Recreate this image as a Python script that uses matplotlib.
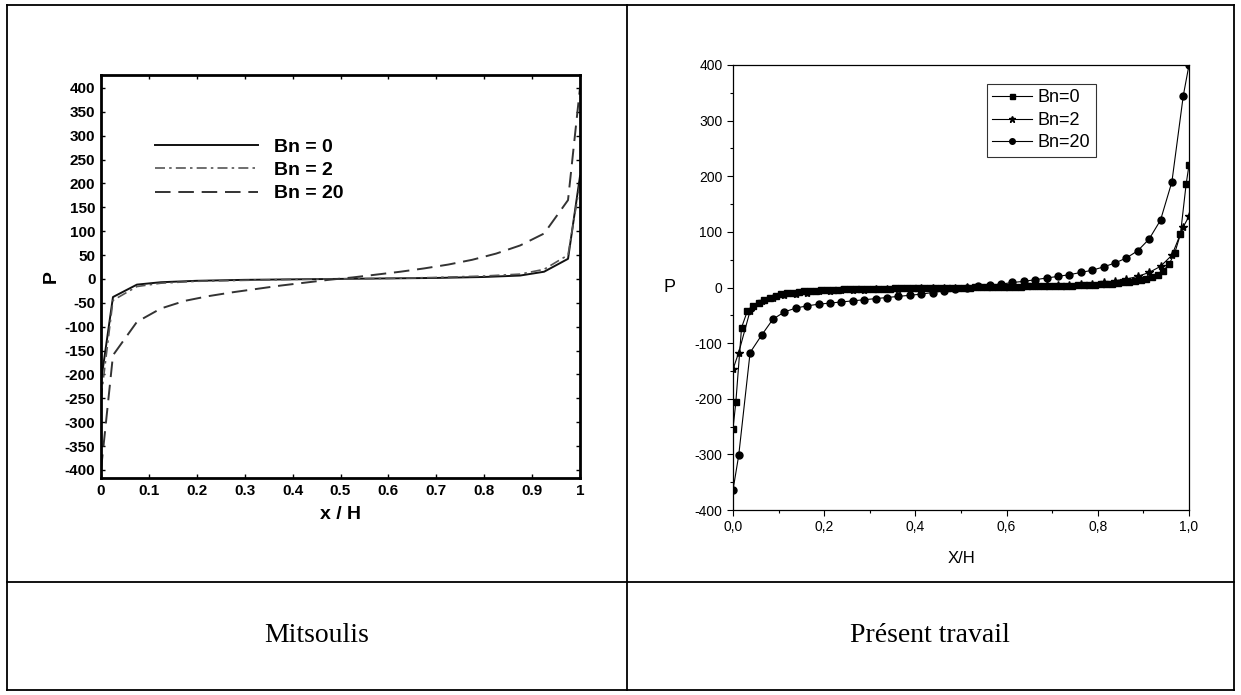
import matplotlib.pyplot as plt
import numpy as np

plt.rcParams['font.family'] = ['Liberation Sans', 'DejaVu Sans']
plt.rcParams['axes.unicode_minus'] = False

# ---- left panel (Mitsoulis) ----
mit_x0 = [0, 0.025, 0.075, 0.125, 0.2, 0.3, 0.4, 0.5, 0.6, 0.7, 0.8, 0.875, 0.925, 0.975, 1.0]
mit_bn0 = [-215, -38, -12, -7, -4, -2, -1, 0, 1, 2, 4, 7, 15, 42, 215]
mit_x2 = [0, 0.025, 0.075, 0.125, 0.2, 0.3, 0.4, 0.5, 0.6, 0.7, 0.8, 0.875, 0.925, 0.975, 1.0]
mit_bn2 = [-250, -45, -16, -9, -5, -3, -1, 0, 1, 3, 6, 10, 20, 50, 200]
mit_x20 = [0, 0.025, 0.075, 0.125, 0.175, 0.225, 0.275, 0.325, 0.375, 0.425, 0.475,
           0.525, 0.575, 0.625, 0.675, 0.725, 0.775, 0.825, 0.875, 0.925, 0.975, 1.0]
mit_bn20 = [-400, -160, -90, -62, -46, -36, -28, -21, -14, -8, -2,
            3, 9, 15, 22, 30, 40, 53, 70, 95, 165, 400]

# ---- right panel (present work) ----
x40 = [0.0, 0.0125, 0.0375, 0.0625, 0.0875, 0.1125, 0.1375, 0.1625, 0.1875, 0.2125,
       0.2375, 0.2625, 0.2875, 0.3125, 0.3375, 0.3625, 0.3875, 0.4125, 0.4375, 0.4625,
       0.4875, 0.5125, 0.5375, 0.5625, 0.5875, 0.6125, 0.6375, 0.6625, 0.6875, 0.7125,
       0.7375, 0.7625, 0.7875, 0.8125, 0.8375, 0.8625, 0.8875, 0.9125, 0.9375, 0.9625,
       0.9875, 1.0]
pt_bn20 = [-364, -302, -117, -86, -57, -44, -37, -33, -30, -28,
           -26, -24, -22, -20, -18, -16, -14, -12, -9, -6,
           -3, 0, 2, 4, 6, 9, 11, 14, 17, 20,
           23, 27, 31, 37, 44, 53, 66, 87, 121, 190,
           345, 400]
pt_bn2 = [-147, -117, -42, -25, -18, -14, -11, -9, -7, -6,
          -5, -4.5, -4, -3.5, -3, -2.5, -2, -1.5, -1, -0.5,
          0, 0.5, 1, 1.5, 2, 2.5, 3, 3.5, 4, 4.5,
          5, 6, 7, 9, 12, 15, 20, 27, 38, 58,
          109, 128]
x80 = [0.0, 0.00625, 0.01875, 0.03125, 0.04375, 0.05625, 0.06875, 0.08125,
       0.09375, 0.10625, 0.11875, 0.13125, 0.14375, 0.15625, 0.16875, 0.18125,
       0.19375, 0.20625, 0.21875, 0.23125, 0.24375, 0.25625, 0.26875, 0.28125,
       0.29375, 0.30625, 0.31875, 0.33125, 0.34375, 0.35625, 0.36875, 0.38125,
       0.39375, 0.40625, 0.41875, 0.43125, 0.44375, 0.45625, 0.46875, 0.48125,
       0.49375, 0.50625, 0.51875, 0.53125, 0.54375, 0.55625, 0.56875, 0.58125,
       0.59375, 0.60625, 0.61875, 0.63125, 0.64375, 0.65625, 0.66875, 0.68125,
       0.69375, 0.70625, 0.71875, 0.73125, 0.74375, 0.75625, 0.76875, 0.78125,
       0.79375, 0.80625, 0.81875, 0.83125, 0.84375, 0.85625, 0.86875, 0.88125,
       0.89375, 0.90625, 0.91875, 0.93125, 0.94375, 0.95625, 0.96875, 0.98125,
       0.99375, 1.0]
pt_bn0 = [-254, -206, -72, -43, -34, -27, -22, -18,
          -15, -12, -10, -9, -8, -7, -6, -5.5,
          -5, -4.5, -4, -4, -3.5, -3.5, -3, -3,
          -2.5, -2.5, -2, -2, -2, -1.5, -1.5, -1.5,
          -1, -1, -1, -0.5, -0.5, -0.5, 0, 0,
          0, 0, 0, 0.5, 0.5, 0.5, 1, 1,
          1, 1.5, 1.5, 1.5, 2, 2, 2, 2.5,
          2.5, 3, 3, 3.5, 3.5, 4, 4, 4.5,
          5, 5.5, 6, 7, 8, 9, 10, 12,
          13, 15, 18, 22, 30, 42, 62, 96,
          186, 220]

W, H = 1241, 695
fig = plt.figure(figsize=(W / 100, H / 100), dpi=100)

# table frame drawn in pixel coords
bg = fig.add_axes([0, 0, 1, 1])
bg.set_xlim(0, W)
bg.set_ylim(H, 0)
bg.axis('off')
for xs, ys in [([7, 1234], [5, 5]), ([7, 1234], [690, 690]), ([7, 7], [5, 690]),
               ([1234, 1234], [5, 690]), ([627, 627], [5, 690]), ([7, 1234], [582, 582])]:
    bg.plot(xs, ys, color='black', lw=1.3, solid_capstyle='projecting')
bg.text(317, 636, 'Mitsoulis', family='Liberation Serif', fontsize=20, ha='center', va='center')
bg.text(930, 636, 'Présent travail', family='Liberation Serif', fontsize=20, ha='center', va='center')


def fig_rect(x0, y0, x1, y1):
    return [x0 / W, 1 - y1 / H, (x1 - x0) / W, (y1 - y0) / H]


# ---- left plot ----
ax1 = fig.add_axes(fig_rect(101, 75, 580, 478))
ax1.plot(mit_x0, mit_bn0, color='#111111', lw=1.4, label='Bn = 0')
ax1.plot(mit_x2, mit_bn2, color='#555555', lw=1.2, ls=(0, (6, 2.5, 1.5, 2.5)), label='Bn = 2')
ax1.plot(mit_x20, mit_bn20, color='#333333', lw=1.4, ls=(0, (8, 4)), label='Bn = 20')
ax1.set_xlim(0, 1)
ax1.set_ylim(-417, 427)
ax1.set_xticks(np.arange(0, 1.01, 0.1))
ax1.set_xticklabels(['0', '0.1', '0.2', '0.3', '0.4', '0.5', '0.6', '0.7', '0.8', '0.9', '1'])
ax1.set_yticks(np.arange(-400, 401, 50))
ax1.tick_params(direction='in', top=True, right=True, length=3, width=1, labelsize=11, pad=4)
for lab in ax1.get_xticklabels() + ax1.get_yticklabels():
    lab.set_fontweight('bold')
for sp in ax1.spines.values():
    sp.set_linewidth(2)
ax1.set_xlabel('x / H', fontsize=14, fontweight='bold', labelpad=6)
ax1.set_ylabel('P', fontsize=14, fontweight='bold', labelpad=4)
ax1.legend(loc='upper left', bbox_to_anchor=(155 / W, 1 - 138 / H), bbox_transform=fig.transFigure,
           frameon=False, prop={'weight': 'bold', 'size': 14}, handlelength=5.3,
           handletextpad=0.8, labelspacing=0.3, borderaxespad=0, borderpad=0)

# ---- right plot ----
ax2 = fig.add_axes(fig_rect(733, 65, 1189, 510))
ax2.plot(x80, pt_bn0, color='black', lw=0.8, marker='s', ms=4.5, label='Bn=0')
ax2.plot(x40, pt_bn2, color='black', lw=0.8, marker='*', ms=6, label='Bn=2')
ax2.plot(x40, pt_bn20, color='black', lw=0.8, marker='o', ms=5, label='Bn=20')
ax2.set_xlim(0, 1)
ax2.set_ylim(-400, 400)
ax2.set_xticks([0, 0.2, 0.4, 0.6, 0.8, 1.0])
ax2.set_xticklabels(['0,0', '0,2', '0,4', '0,6', '0,8', '1,0'])
ax2.set_xticks(np.arange(0.1, 1.0, 0.2), minor=True)
ax2.set_yticks(np.arange(-400, 401, 100))
ax2.set_yticks(np.arange(-350, 400, 100), minor=True)
ax2.tick_params(which='major', direction='out', length=4, width=0.8, labelsize=10)
ax2.tick_params(which='minor', direction='out', length=2.5, width=0.8)
for sp in ax2.spines.values():
    sp.set_linewidth(0.9)
ax2.set_xlabel('X/H', fontsize=12, labelpad=12)
ax2.set_ylabel('P', fontsize=13, rotation=0, labelpad=18, va='center')
leg = ax2.legend(loc='upper left', bbox_to_anchor=(987 / W, 1 - 84 / H), bbox_transform=fig.transFigure,
                 frameon=True, fancybox=False, edgecolor='black', fontsize=13, handlelength=2.2,
                 handletextpad=0.3, labelspacing=0.3, borderaxespad=0, borderpad=0.3,
                 markerscale=0.8)
leg.get_frame().set_linewidth(0.8)

fig.savefig('out.png', dpi=100)
